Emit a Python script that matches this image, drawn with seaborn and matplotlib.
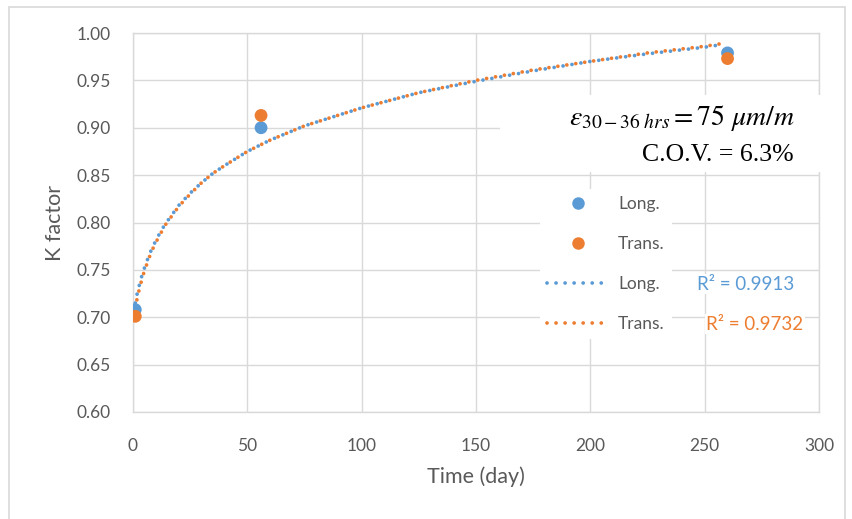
import numpy as np
import pandas as pd
import matplotlib
matplotlib.use("Agg")
import matplotlib.pyplot as plt
import seaborn as sns
from matplotlib.lines import Line2D
from matplotlib.patches import Rectangle

# ---- data ----
days = [1, 56, 260]
k_long = [0.708, 0.900, 0.979]
k_trans = [0.701, 0.913, 0.973]

trend_days = [1, 1.5, 2, 3, 4, 5, 6.5, 8, 10, 12, 14, 17, 20, 25, 30, 35, 40, 50,
              60, 75, 100, 125, 150, 175, 200, 225, 250, 258]
trend_long = [0.715, 0.721, 0.727, 0.736, 0.745, 0.752, 0.762, 0.771, 0.781, 0.790,
              0.798, 0.808, 0.818, 0.831, 0.842, 0.852, 0.860, 0.875, 0.887, 0.902,
              0.921, 0.937, 0.949, 0.960, 0.970, 0.978, 0.985, 0.988]
trend_trans = [0.709, 0.716, 0.722, 0.732, 0.741, 0.749, 0.759, 0.769, 0.779, 0.788,
               0.797, 0.807, 0.817, 0.830, 0.842, 0.852, 0.860, 0.875, 0.887, 0.902,
               0.921, 0.937, 0.950, 0.961, 0.970, 0.979, 0.986, 0.989]

series_names = ["Long.", "Trans."]
r2_labels = ["R\u00b2 = 0.9913", "R\u00b2 = 0.9732"]
x_ticks = [0, 50, 100, 150, 200, 250, 300]
y_ticks = [0.60, 0.65, 0.70, 0.75, 0.80, 0.85, 0.90, 0.95, 1.00]

BLUE = "#5B9BD5"
ORANGE = "#ED7D31"
GRID = "#D9D9D9"
TXT = "#595959"
DOTS = (0, (0.01, 2.4))

sns.set_style("white")
plt.rcParams["font.family"] = ["Lato", "DejaVu Sans"]
plt.rcParams["mathtext.fontset"] = "stix"

W, H = 853, 519
fig = plt.figure(figsize=(W / 100, H / 100), dpi=100)
L, R, T, B = 133, 819, 33, 412
ax = fig.add_axes([L / W, 1 - B / H, (R - L) / W, (B - T) / H])

pts = pd.DataFrame({
    "day": days * 2,
    "k": k_long + k_trans,
    "series": ["Long."] * len(days) + ["Trans."] * len(days),
})
trend = pd.DataFrame({
    "day": trend_days * 2,
    "k": trend_long + trend_trans,
    "series": ["Long."] * len(trend_days) + ["Trans."] * len(trend_days),
})
pal = {"Long.": BLUE, "Trans.": ORANGE}

for name in series_names:
    sub = trend[trend["series"] == name]
    sns.lineplot(data=sub, x="day", y="k", color=pal[name], ax=ax, sort=False,
                 estimator=None, linewidth=2.7, linestyle=DOTS,
                 dash_capstyle="round", zorder=3, legend=False)

sns.scatterplot(data=pts, x="day", y="k", hue="series", palette=pal, ax=ax,
                s=85, edgecolor="none", zorder=4, legend=False)

ax.set_xlim(0, 300)
ax.set_ylim(0.60, 1.00)
ax.set_xticks(x_ticks)
ax.set_yticks(y_ticks)
ax.set_xticklabels([str(v) for v in x_ticks])
ax.set_yticklabels([f"{v:.2f}" for v in y_ticks])
ax.grid(True, color=GRID, linewidth=1.0)
ax.set_axisbelow(True)
for s in ax.spines.values():
    s.set_color(GRID)
    s.set_linewidth(1.0)
ax.tick_params(axis="x", length=0, pad=19, labelsize=12.5, labelcolor=TXT)
ax.tick_params(axis="y", length=0, pad=16, labelsize=12.5, labelcolor=TXT)
ax.set_xlabel("Time (day)", fontsize=15.5, color=TXT, labelpad=9)
ax.set_ylabel("K factor", fontsize=15.5, color=TXT, labelpad=8)

# annotation box (white background)
fig.add_artist(Rectangle((500 / W, 1 - 172 / H), 330 / W, 77 / H,
                         transform=fig.transFigure, facecolor="white",
                         edgecolor="none", zorder=2))
fig.text(795 / W, 1 - 118 / H, r"$\varepsilon_{30-36\ hrs} = 75\ \mu m/m$",
         ha="right", va="center", fontsize=20, color="black", zorder=5)
fig.text(794 / W, 1 - 155 / H, "C.O.V. = 6.3%", ha="right", va="center",
         fontsize=18.5, color="black", family=["Liberation Serif"], zorder=5)

# legend
handles = [
    Line2D([], [], linestyle="none", marker="o", markersize=9,
           markerfacecolor=BLUE, markeredgecolor="none"),
    Line2D([], [], linestyle="none", marker="o", markersize=9,
           markerfacecolor=ORANGE, markeredgecolor="none"),
    Line2D([], [], color=BLUE, linewidth=2.7, linestyle=DOTS,
           dash_capstyle="round"),
    Line2D([], [], color=ORANGE, linewidth=2.7, linestyle=DOTS,
           dash_capstyle="round"),
]
leg = ax.legend(handles, series_names + series_names, loc="upper left",
                bbox_to_anchor=(540 / W, 1 - 189 / H),
                bbox_transform=fig.transFigure, frameon=True,
                facecolor="white", edgecolor="none", framealpha=1,
                fontsize=12.5, handlelength=3.6, handletextpad=0.5,
                labelspacing=1.38, borderpad=0.4, borderaxespad=0)
for t in leg.get_texts():
    t.set_color(TXT)
leg.set_zorder(6)

fig.text(746 / W, 1 - 284 / H, r2_labels[0], ha="center", va="center",
         fontsize=13.5, color=BLUE, zorder=7,
         bbox=dict(facecolor="white", edgecolor="none", pad=1))
fig.text(755 / W, 1 - 324 / H, r2_labels[1], ha="center", va="center",
         fontsize=13.5, color=ORANGE, zorder=7,
         bbox=dict(facecolor="white", edgecolor="none", pad=1))

# outer chart border
fig.add_artist(Rectangle((9 / W, -0.05), (845 - 9) / W, 1.05 - 7 / H,
                         transform=fig.transFigure, fill=False,
                         edgecolor=GRID, linewidth=1.2))

fig.savefig("out.png", dpi=100)
